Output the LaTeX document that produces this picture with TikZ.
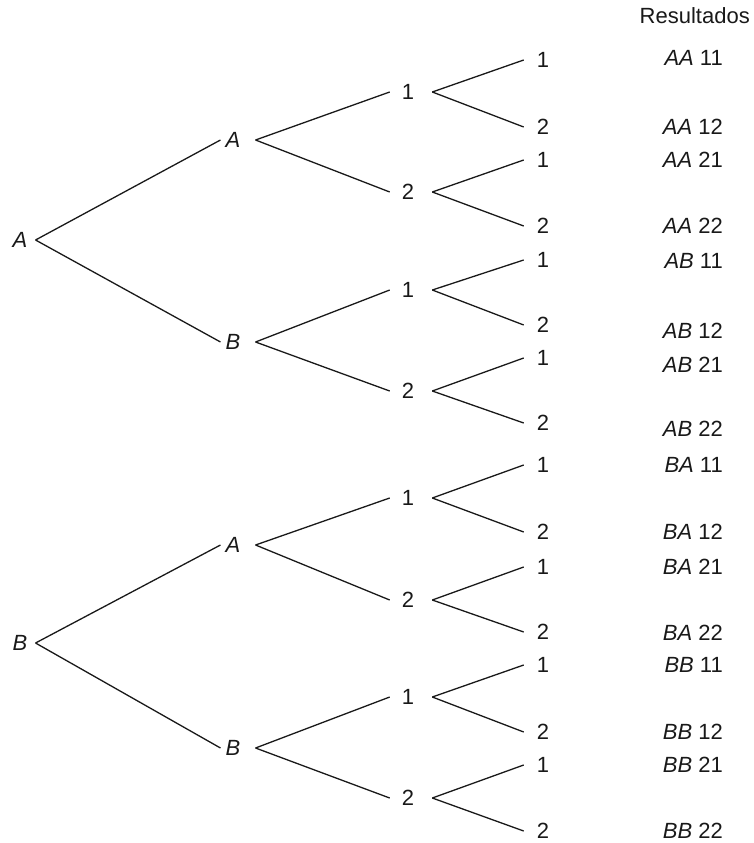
\documentclass[tikz,border=0pt]{standalone}
\usepackage{fontspec}
\setmainfont{Liberation Sans}
\begin{document}
\begin{tikzpicture}[x=1pt,y=-1pt,
  every node/.style={inner sep=0pt, font=\fontsize{22}{26}\selectfont, text=black!90},
  res/.style={anchor=east},
  edge/.style={line width=1.3pt, color=black!90}]
\useasboundingbox (0,0) rectangle (754,843);
% level 1
\node (r1) at (20,240) {\itshape A};
\node (r2) at (20,643) {\itshape B};
% level 2
\node (a1) at (233,140) {\itshape A};
\node (a2) at (233,342) {\itshape B};
\node (a3) at (233,545) {\itshape A};
\node (a4) at (233,748) {\itshape B};
% level 3
\foreach \i/\y/\t in {1/92/1,2/192/2,3/290/1,4/391/2,5/498/1,6/600/2,7/697/1,8/798/2}
  \node (b\i) at (408,\y) {\t};
% level 4 (leaves)
\foreach \i/\y/\t in {1/60/1,2/127/2,3/160/1,4/226/2,5/260/1,6/325/2,7/358/1,8/423/2,
                      9/465/1,10/532/2,11/567/1,12/632/2,13/665/1,14/732/2,15/765/1,16/831/2}
  \node (c\i) at (543,\y) {\t};
% results
\node[res] (h) at (750,16) {Resultados};
\foreach \i/\y/\p/\q in {1/58/AA/11,2/127/AA/12,3/160/AA/21,4/226/AA/22,
                         5/261/AB/11,6/331/AB/12,7/365/AB/21,8/429/AB/22,
                         9/465/BA/11,10/532/BA/12,11/567/BA/21,12/633/BA/22,
                         13/665/BB/11,14/732/BB/12,15/765/BB/21,16/831/BB/22}
  \node[res] (s\i) at (723,\y) {\textit{\p} \q};
% edges level 1 -> 2
\foreach \p/\c in {r1/a1,r1/a2,r2/a3,r2/a4}
  \draw[edge] ([xshift=8pt]\p.east) -- ([xshift=-5pt]\c.west);
% edges level 2 -> 3
\foreach \p/\c in {a1/b1,a1/b2,a2/b3,a2/b4,a3/b5,a3/b6,a4/b7,a4/b8}
  \draw[edge] ([xshift=15pt]\p.east) -- ([xshift=-12pt]\c.west);
% edges level 3 -> 4
\foreach \p/\c in {b1/c1,b1/c2,b2/c3,b2/c4,b3/c5,b3/c6,b4/c7,b4/c8,
                   b5/c9,b5/c10,b6/c11,b6/c12,b7/c13,b7/c14,b8/c15,b8/c16}
  \draw[edge] ([xshift=18pt]\p.east) -- ([xshift=-13pt]\c.west);
\end{tikzpicture}
\end{document}
